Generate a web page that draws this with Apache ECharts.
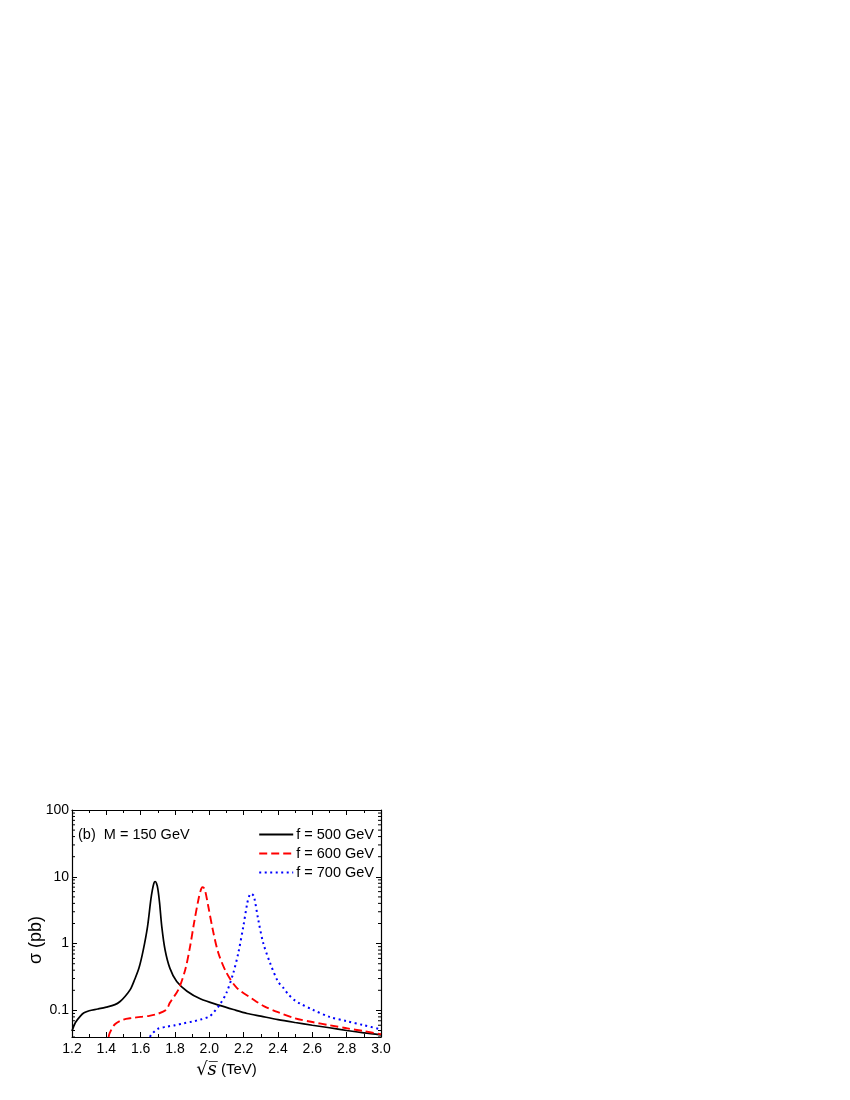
<!DOCTYPE html>
<html>
<head>
<meta charset="utf-8">
<script src="https://cdn.jsdelivr.net/npm/echarts@6/dist/echarts.min.js"></script>
<style>
  html, body { margin: 0; padding: 0; background: #fff; }
  #chart { width: 850px; height: 1100px; }
</style>
</head>
<body>
<div id="chart"></div>
<script>
// sqrt(s) in TeV, sigma in pb
const f500x = [1.2, 1.22, 1.25, 1.27, 1.3, 1.35, 1.4, 1.45, 1.48, 1.51, 1.54, 1.565, 1.59, 1.615, 1.64, 1.659, 1.668, 1.677, 1.684, 1.692, 1.7, 1.71, 1.723, 1.742, 1.77, 1.81, 1.87, 1.95, 2.06, 2.14, 2.22, 2.3, 2.4, 2.5, 2.6, 2.7, 2.8, 2.9, 3.0]
const f500y = [0.049, 0.066, 0.083, 0.092, 0.099, 0.105, 0.112, 0.122, 0.136, 0.163, 0.206, 0.29, 0.43, 0.8, 1.8, 4.5, 6.3, 8.0, 8.5, 8.0, 6.6, 4.1, 1.8, 0.81, 0.43, 0.27, 0.194, 0.148, 0.119, 0.103, 0.09, 0.082, 0.073, 0.066, 0.060, 0.055, 0.050, 0.046, 0.043]

const f600x = [1.413, 1.42, 1.45, 1.5, 1.55, 1.6, 1.65, 1.7, 1.75, 1.77, 1.82, 1.86, 1.888, 1.911, 1.936, 1.95, 1.959, 1.967, 1.975, 1.994, 2.02, 2.052, 2.1, 2.16, 2.256, 2.32, 2.4, 2.5, 2.6, 2.7, 2.8, 2.9, 3.0]
const f600y = [0.04, 0.046, 0.062, 0.073, 0.077, 0.080, 0.083, 0.089, 0.103, 0.13, 0.206, 0.41, 0.91, 2.04, 4.5, 6.3, 7.0, 6.9, 6.3, 3.6, 1.62, 0.73, 0.366, 0.218, 0.146, 0.115, 0.094, 0.076, 0.067, 0.060, 0.054, 0.049, 0.044]

const f700x = [1.655, 1.66, 1.7, 1.75, 1.8, 1.85, 1.9, 1.95, 2.0, 2.023, 2.062, 2.1, 2.14, 2.169, 2.198, 2.221, 2.233, 2.241, 2.25, 2.26, 2.285, 2.314, 2.353, 2.4, 2.43, 2.46, 2.5, 2.53, 2.6, 2.7, 2.8, 2.9, 3.0]
const f700y = [0.04, 0.043, 0.053, 0.057, 0.060, 0.064, 0.068, 0.073, 0.081, 0.092, 0.123, 0.184, 0.366, 0.73, 1.81, 4.05, 5.2, 5.6, 5.5, 5.1, 2.28, 1.02, 0.52, 0.27, 0.22, 0.174, 0.14, 0.126, 0.103, 0.080, 0.069, 0.060, 0.052]

const legendNames = ['f = 500 GeV', 'f = 600 GeV', 'f = 700 GeV']
const yTickLabels = [0.1, 1, 10, 100]

const pairs = (xs, ys) => xs.map((x, i) => [x, ys[i]])

const chart = echarts.init(document.getElementById('chart'))
const font = 'Liberation Sans, Arial, sans-serif'

const xAxisBase = {
  type: 'value',
  min: 1.2,
  max: 3.0,
  interval: 0.2,
  axisLine: { show: true, onZero: false, lineStyle: { color: '#000', width: 1.2 } },
  axisTick: { show: true, inside: true, length: 5, lineStyle: { color: '#000' } },
  minorTick: { show: true, splitNumber: 2, length: 3, lineStyle: { color: '#000' } },
  splitLine: { show: false },
  minorSplitLine: { show: false }
}
const yAxisBase = {
  type: 'log',
  logBase: 10,
  min: 0.04,
  max: 100,
  axisLine: { show: true, onZero: false, lineStyle: { color: '#000', width: 1.2 } },
  axisTick: { show: true, inside: true, length: 5, lineStyle: { color: '#000' } },
  splitLine: { show: false }
}

const lineSeries = (name, xs, ys, color, width, type) => ({
  name: name,
  type: 'line',
  symbol: 'none',
  smooth: 0.3,
  clip: true,
  data: pairs(xs, ys),
  lineStyle: { color: color, width: width, type: type },
  itemStyle: { color: color }
})

const option = {
  animation: false,
  backgroundColor: '#fff',
  textStyle: { fontFamily: font },
  grid: { left: 72, right: 469, top: 810, bottom: 63 },
  title: {
    text: '(b)  M = 150 GeV',
    left: 78,
    top: 827,
    padding: 0,
    textStyle: { fontSize: 14.5, fontWeight: 'normal', color: '#000', fontFamily: font }
  },
  legend: {
    data: legendNames,
    orient: 'vertical',
    right: 471,
    top: 822,
    itemWidth: 34,
    itemHeight: 14,
    itemGap: 4,
    itemStyle: { opacity: 0 },
    textStyle: { fontSize: 14.5, color: '#000', padding: [0, 0, 0, -2] }
  },
  xAxis: [
    Object.assign({}, xAxisBase, {
      position: 'bottom',
      name: '{r|√}{s|s̅} (TeV)',
      nameLocation: 'middle',
      nameGap: 24,
      nameTextStyle: {
        fontSize: 15,
        color: '#000',
        rich: {
          r: { fontSize: 18, fontFamily: 'DejaVu Serif', color: '#000' },
          s: { fontSize: 18, fontFamily: 'DejaVu Serif', fontStyle: 'italic', color: '#000' }
        }
      },
      axisLabel: { fontSize: 14, color: '#000', margin: 5, formatter: v => v.toFixed(1) }
    }),
    Object.assign({}, xAxisBase, { position: 'top', axisLabel: { show: false } })
  ],
  yAxis: [
    Object.assign({}, yAxisBase, {
      position: 'left',
      axisLabel: {
        fontSize: 14,
        color: '#000',
        margin: 3,
        formatter: v => yTickLabels.some(t => Math.abs(t - v) < 1e-9) ? String(v) : ''
      }
    }),
    Object.assign({}, yAxisBase, { position: 'right', axisLabel: { show: false } })
  ],
  series: [
    lineSeries(legendNames[0], f500x, f500y, '#000', 1.7, 'solid'),
    lineSeries(legendNames[1], f600x, f600y, '#ff0000', 1.9, [8, 4]),
    lineSeries(legendNames[2], f700x, f700y, '#0000ff', 2, [2, 3.5])
  ]
}

chart.setOption(option)

// y axis title, and log minor ticks (2..9 per decade) on both sides
const extra = [{
  type: 'text',
  x: 36,
  y: 940,
  rotation: Math.PI / 2,
  style: { text: 'σ (pb)', font: '18px ' + font, fill: '#000', textAlign: 'center', textVerticalAlign: 'middle' },
  silent: true
}]
const leftX = chart.convertToPixel({ xAxisIndex: 0 }, 1.2)
const rightX = chart.convertToPixel({ xAxisIndex: 0 }, 3.0)
for (let k = -2; k <= 1; k++) {
  for (let m = 2; m <= 9; m++) {
    const v = m * Math.pow(10, k)
    if (v < 0.04 || v > 100) continue
    const y = chart.convertToPixel({ yAxisIndex: 0 }, v)
    extra.push({ type: 'line', shape: { x1: leftX, y1: y, x2: leftX + 3, y2: y }, style: { stroke: '#000', lineWidth: 1 }, silent: true })
    extra.push({ type: 'line', shape: { x1: rightX, y1: y, x2: rightX - 3, y2: y }, style: { stroke: '#000', lineWidth: 1 }, silent: true })
  }
}
chart.setOption({ graphic: extra })
</script>
</body>
</html>
